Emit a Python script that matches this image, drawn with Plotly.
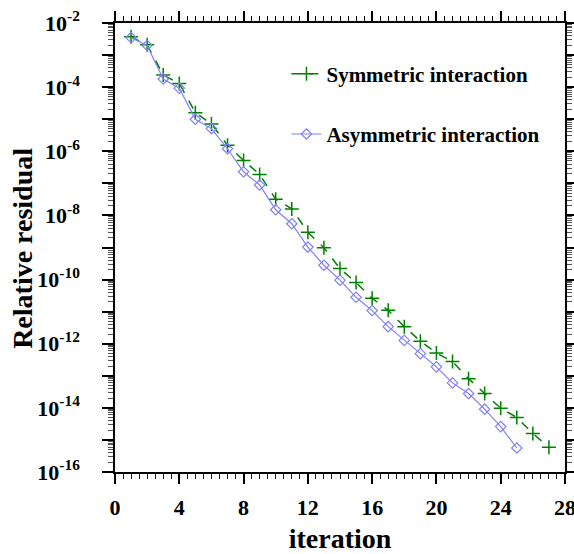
import plotly.graph_objects as go

iter_sym = list(range(1, 28))
res_sym = [3.7e-3, 2.1e-3, 2.4e-4, 1.3e-4, 1.6e-5, 7.1e-6, 1.55e-6, 5.2e-7, 1.9e-7,
           3.2e-8, 1.6e-8, 3.0e-9, 9.8e-10, 2.2e-10, 8.1e-11, 2.6e-11, 1.1e-11,
           3.4e-12, 1.2e-12, 5.1e-13, 2.8e-13, 8.1e-14, 2.8e-14, 9.7e-15, 5.0e-15,
           1.6e-15, 5.9e-16]
iter_asym = list(range(1, 26))
res_asym = [3.5e-3, 2.0e-3, 1.8e-4, 9.3e-5, 1.0e-5, 5.1e-6, 1.2e-6, 2.3e-7, 8.9e-8,
            1.5e-8, 5.5e-9, 1.03e-9, 2.8e-10, 9.6e-11, 2.8e-11, 1.08e-11, 3.4e-12,
            1.27e-12, 4.9e-13, 1.9e-13, 6.0e-14, 2.8e-14, 9.1e-15, 2.6e-15, 5.6e-16]

x_ticks = [0, 4, 8, 12, 16, 20, 24, 28]
y_exps = list(range(-2, -17, -1))
y_tickvals = [10.0 ** e for e in y_exps]
y_ticktext = [f"10<sup>{e}</sup>" if e % 2 == 0 else "" for e in y_exps]

FONT = "Liberation Serif"

fig = go.Figure()
fig.add_trace(go.Scatter(
    x=iter_sym, y=res_sym, mode="lines+markers", name="Symmetric interaction",
    legendgroup="a",
    line=dict(color="#008000", width=1.5, dash="dash"),
    marker=dict(symbol="cross-thin", size=10, line=dict(color="#008000", width=1.5)),
))
fig.add_trace(go.Scatter(
    x=iter_asym, y=res_asym, mode="lines+markers", name="Asymmetric interaction",
    legendgroup="b",
    line=dict(color="#8080FF", width=1.2),
    marker=dict(symbol="diamond-open", size=8, color="#8080FF", line=dict(width=1.2)),
))

fig.update_layout(
    width=574, height=554,
    margin=dict(l=115, r=9, t=23, b=82),
    paper_bgcolor="white", plot_bgcolor="white",
    font=dict(family=FONT, size=22, color="black", weight="bold"),
    legend=dict(x=0.381, y=0.932, xanchor="left", yanchor="top",
                bgcolor="rgba(0,0,0,0)", font=dict(size=21, family=FONT, weight="bold"),
                tracegroupgap=30, itemwidth=30),
    showlegend=True,
    annotations=[dict(
        text="Relative residual", textangle=-90, showarrow=False,
        xref="paper", yref="paper", x=-0.2044, y=0.497,
        xanchor="center", yanchor="middle",
        font=dict(size=28, family=FONT, weight="bold", color="black"),
    )],
)
fig.update_xaxes(
    range=[0, 28], tickmode="array", tickvals=x_ticks,
    ticks="outside", ticklen=10, tickwidth=1.5, tickcolor="black",
    ticklabelstandoff=5, automargin=False, ticklabeloverflow="allow",
    showline=True, linecolor="black", linewidth=1.5, mirror="allticks",
    showgrid=False, zeroline=False,
    minor=dict(ticks="outside", ticklen=5, dtick=0.5, tickcolor="black", tickwidth=1, showgrid=False),
    title=dict(text="iteration", font=dict(size=28, family=FONT, weight="bold"), standoff=10),
    tickfont=dict(size=22, family=FONT, weight="bold"),
)
fig.update_yaxes(
    type="log", range=[-16, -2], tickmode="array", tickvals=y_tickvals, ticktext=y_ticktext,
    ticks="outside", ticklen=11, tickwidth=1.5, tickcolor="black",
    ticklabelstandoff=18, automargin=False, ticklabeloverflow="allow",
    showline=True, linecolor="black", linewidth=1.5, mirror="allticks",
    showgrid=False, zeroline=False,
    minor=dict(ticks="outside", ticklen=5, dtick="D1", tickcolor="#555555", tickwidth=1, showgrid=False),
    tickfont=dict(size=22, family=FONT, weight="bold"),
)

fig.write_html("out.html")
